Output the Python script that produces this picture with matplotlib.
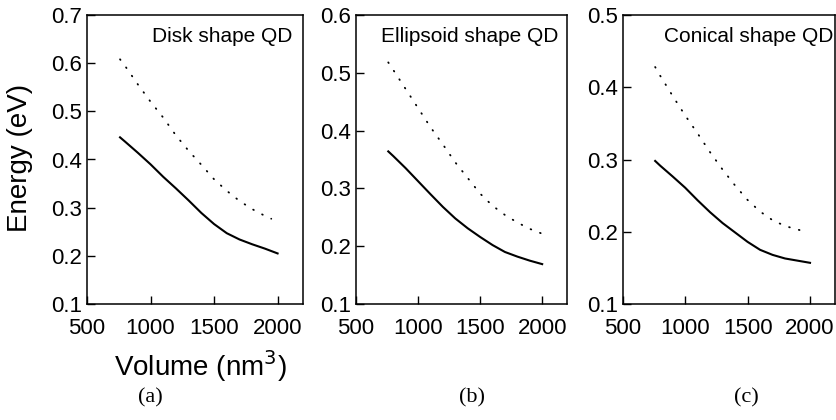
import matplotlib
matplotlib.use("Agg")
import matplotlib.pyplot as plt

plt.rcParams['font.family'] = ['Liberation Sans', 'DejaVu Sans']

# Volume grid (nm^3)
volume = [760, 800, 900, 1000, 1100, 1200, 1300, 1400, 1500, 1600, 1700, 1800, 1900, 2000]

# (a) Disk shape QD
disk_solid = [0.446, 0.437, 0.414, 0.390, 0.364, 0.340, 0.315, 0.289, 0.266, 0.247, 0.234, 0.224, 0.215, 0.205]
disk_dot_volume = [760, 800, 900, 1000, 1100, 1200, 1300, 1400, 1500, 1600, 1700, 1800, 1900, 1950]
disk_dotted = [0.608, 0.594, 0.556, 0.520, 0.487, 0.450, 0.418, 0.389, 0.359, 0.335, 0.314, 0.297, 0.283, 0.277]

# (b) Ellipsoid shape QD
ell_solid = [0.364, 0.356, 0.335, 0.3125, 0.290, 0.268, 0.248, 0.231, 0.216, 0.202, 0.190, 0.182, 0.175, 0.169]
ell_dot_volume = [760, 800, 900, 1000, 1100, 1200, 1300, 1400, 1500, 1600, 1700, 1800, 1900, 1995]
ell_dotted = [0.518, 0.505, 0.472, 0.439, 0.406, 0.376, 0.345, 0.318, 0.291, 0.270, 0.254, 0.241, 0.230, 0.222]

# (c) Conical shape QD
con_solid = [0.298, 0.2915, 0.2765, 0.261, 0.2435, 0.227, 0.212, 0.199, 0.186, 0.175, 0.168, 0.163, 0.160, 0.157]
con_dot_volume = [760, 800, 900, 1000, 1100, 1200, 1300, 1400, 1500, 1600, 1700, 1800, 1900, 1975]
con_dotted = [0.428, 0.416, 0.388, 0.361, 0.336, 0.310, 0.286, 0.264, 0.244, 0.228, 0.216, 0.208, 0.203, 0.200]

titles = ["Disk shape QD", "Ellipsoid shape QD", "Conical shape QD"]
panel_labels = ["(a)", "(b)", "(c)"]
ylims = [(0.1, 0.7), (0.1, 0.6), (0.1, 0.5)]
yticks = [[0.1, 0.2, 0.3, 0.4, 0.5, 0.6, 0.7],
          [0.1, 0.2, 0.3, 0.4, 0.5, 0.6],
          [0.1, 0.2, 0.3, 0.4, 0.5]]
xticks = [500, 1000, 1500, 2000]

W, H = 837, 420
fig = plt.figure(figsize=(W / 100, H / 100), dpi=100)

boxes = [(87, 303), (356, 567), (622.7, 835)]
top_px, bot_px = 15, 304
title_x = [0.949, 0.957, 0.99]
label_x = [150, 472, 746]

series = [(disk_solid, disk_dot_volume, disk_dotted),
          (ell_solid, ell_dot_volume, ell_dotted),
          (con_solid, con_dot_volume, con_dotted)]

for i, (l, r) in enumerate(boxes):
    ax = fig.add_axes([l / W, 1 - bot_px / H, (r - l) / W, (bot_px - top_px) / H])
    s, dv, d = series[i]
    ax.plot(volume, s, color='black', lw=1.5)
    ax.plot(dv, d, color='black', lw=1.3, linestyle=(0, (0.4, 5.2)),
            dash_capstyle='round')
    ax.set_xlim(500, 2200)
    ax.set_ylim(*ylims[i])
    ax.set_xticks(xticks)
    ax.set_yticks(yticks[i])
    ax.set_yticklabels([f"{v:.1f}" for v in yticks[i]])
    ax.tick_params(direction='in', length=6, width=1, labelsize=16,
                   top=False, right=False)
    ax.tick_params(axis='x', pad=10)
    ax.tick_params(axis='y', pad=3.5)
    for sp in ax.spines.values():
        sp.set_linewidth(1.1)
    ax.text(title_x[i], 0.924, titles[i], transform=ax.transAxes, ha='right',
            va='center', fontsize=15)
    fig.text(label_x[i] / W, 1 - 398 / H, panel_labels[i], ha='center', va='center',
             fontsize=16, family=['Liberation Serif', 'DejaVu Serif'])

fig.text(20 / W, 1 - 158 / H, "Energy (eV)", rotation=90, ha='center', va='center',
         fontsize=20)
fig.text(200 / W, 1 - 366 / H, "Volume (nm$^3$)", ha='center', va='center', fontsize=20)

fig.savefig("out.png", dpi=100)
